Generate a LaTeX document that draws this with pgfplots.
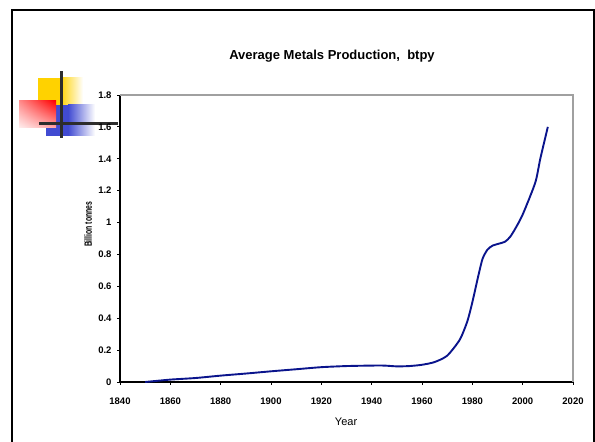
\documentclass[border=0pt]{standalone}
\usepackage{pgfplots}
\pgfplotsset{compat=1.18}
\usepackage{graphicx}
\usetikzlibrary{shadings}
\usepackage{fontspec}
\setmainfont{Liberation Sans}
\definecolor{curve}{RGB}{10,20,140}
\definecolor{logoyel}{RGB}{255,210,0}
\definecolor{logoblue}{RGB}{65,75,210}
\definecolor{framegray}{RGB}{160,160,160}
\definecolor{crossdark}{RGB}{45,45,45}

\begin{document}
\begin{tikzpicture}[x=1pt,y=1pt]
\begin{scope}
\clip (0,0) rectangle (595,442);
% slide frame
\draw[line width=2pt] (12,-20) -- (12,432) -- (594,432) -- (594,-20);
\end{scope}

% logo
\fill[logoyel] (38,337) rectangle (60,364);
\shade[left color=logoyel, right color=white] (60,337) rectangle (83,364);
\fill[logoblue] (46,306) rectangle (68,337);
\shade[left color=logoblue, right color=white] (68,306) rectangle (95,337);
\shade[upper left=red!45, upper right=red, lower left=red!6, lower right=red!35] (19,314) rectangle (56,341);
\draw[crossdark, line width=3pt] (61,304) -- (61,371);
\draw[crossdark, line width=3pt] (39,318.5) -- (118,318.5);

\begin{axis}[
    at={(120pt,60pt)}, anchor=south west,
    scale only axis,
    width=453pt, height=287pt,
    xmin=1840, xmax=2020,
    ymin=0, ymax=1.8,
    axis lines=left,
    axis line style={-, line width=1.3pt, black},
    xtick={1840,1860,...,2020},
    ytick={0,0.2,...,1.8},
    tick align=outside,
    major tick length=3pt,
    tick style={black, line width=0.8pt},
    /pgf/number format/1000 sep={},
    /pgf/number format/assume math mode=true,
    ticklabel style={font=\bfseries\fontsize{9.5}{11}\selectfont},
    xticklabel style={yshift=-9pt},
    yticklabel style={xshift=-2pt},
    title={\bfseries Average Metals Production,\ \ btpy},
    title style={font=\fontsize{13}{15}\selectfont, at={(axis description cs:0.468,1.0)}, anchor=center, yshift=33pt},
    xlabel={Year},
    xlabel style={font=\fontsize{11}{13}\selectfont, at={(axis description cs:0.499,-0.139)}, anchor=center},
    ylabel={\scalebox{0.65}[1]{\bfseries Billion tonnes}},
    ylabel style={font=\fontsize{10.5}{12}\selectfont, at={(axis description cs:-0.0706,0.549)}, anchor=center},
    clip=false,
]
\draw[framegray, line width=2pt] (rel axis cs:0,1) -- (rel axis cs:1,1) -- (rel axis cs:1,0);
\addplot[curve, line width=1.9pt, smooth, tension=0.4] coordinates {
(1850,0.000) (1860,0.015) (1870,0.025) (1880,0.040) (1890,0.053)
(1900,0.067) (1910,0.080) (1920,0.093) (1930,0.100) (1940,0.103)
(1945,0.103) (1950,0.098) (1955,0.100) (1960,0.108) (1965,0.125)
(1970,0.165) (1975,0.265) (1978,0.380) (1980,0.500) (1982,0.640)
(1984,0.770) (1986,0.830) (1988,0.855) (1990,0.865) (1993,0.880)
(1995,0.910) (1997,0.960) (2000,1.050) (2005,1.250) (2007,1.400)
(2010,1.600)
};
\end{axis}
\pgfresetboundingbox
\useasboundingbox (0,0) rectangle (595,442);
\end{tikzpicture}
\end{document}
